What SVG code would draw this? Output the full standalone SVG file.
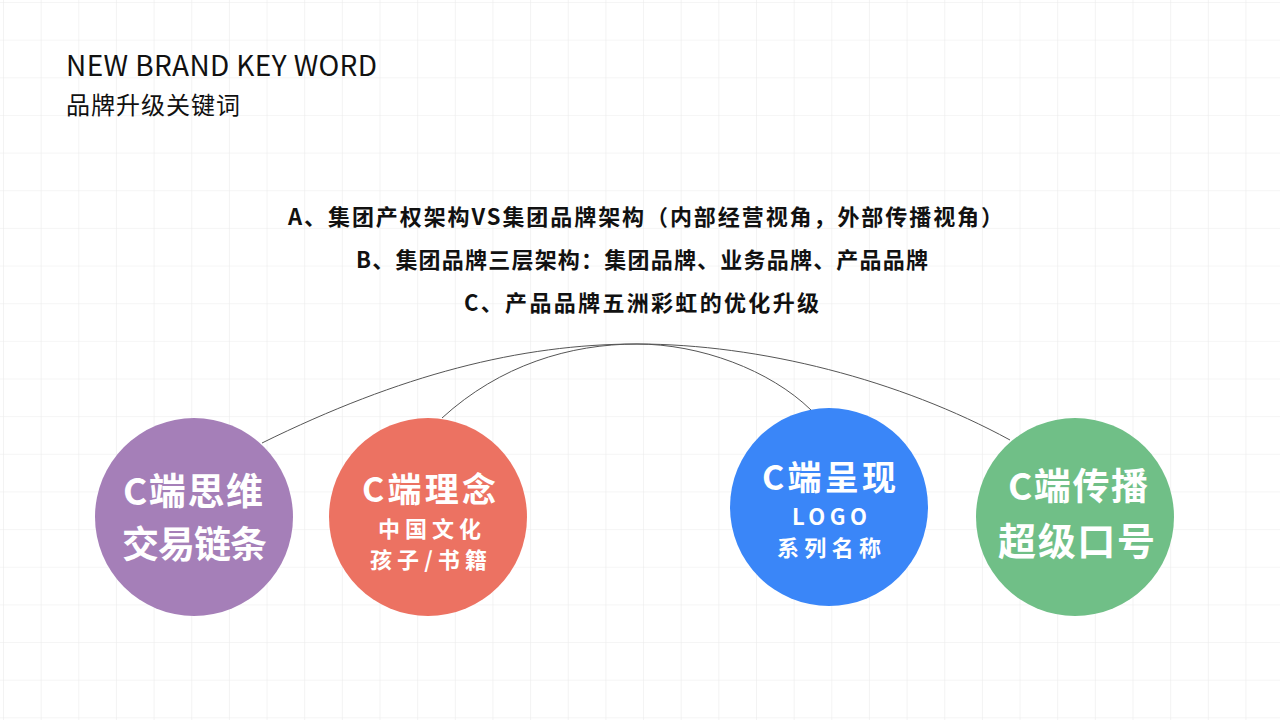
<svg xmlns="http://www.w3.org/2000/svg" width="1280" height="720" viewBox="0 0 1280 720">
<defs>
<pattern id="grid" x="3" y="2" width="37.65" height="37.65" patternUnits="userSpaceOnUse">
<path d="M0 0H37.65M0 0V37.65" fill="none" stroke="#ebebeb" stroke-width="1.2"/>
</pattern>
<style>
.t{font-family:"Noto Sans CJK SC","Noto Sans",sans-serif;}
.h{font-weight:bold;font-size:22px;fill:#111;}
.c{fill:#fff;font-weight:bold;}
.ln{fill:none;stroke:#555;stroke-width:1;}
</style>
</defs>
<rect width="1280" height="720" fill="#fff"/>
<rect width="1280" height="720" fill="url(#grid)"/>
<text class="t" x="66" y="76" font-size="28" fill="#111" textLength="311">NEW BRAND KEY WORD</text>
<text class="t" x="66" y="114" font-size="24" fill="#111" textLength="174">品牌升级关键词</text>
<text class="t h" x="288" y="225" textLength="715">A、集团产权架构VS集团品牌架构（内部经营视角，外部传播视角）</text>
<text class="t h" x="356" y="268" textLength="572">B、集团品牌三层架构：集团品牌、业务品牌、产品品牌</text>
<text class="t h" x="464" y="311" textLength="355">C、产品品牌五洲彩虹的优化升级</text>
<g id="connectors">
<path class="ln" d="M262 443 C400 375 520 344 637 344 C760 344 900 380 1010 440"/>
<path class="ln" d="M442 418 C500 365 570 344 637 344 C700 344 770 370 811 410"/>
</g>
<g id="n1"><circle cx="194" cy="517" r="99" fill="#A57FB8"/>
<text class="t c" x="123" y="505" font-size="37" textLength="140">C端思维</text>
<text class="t c" x="122" y="558" font-size="37" textLength="145">交易链条</text></g>
<g id="n2"><circle cx="428" cy="517" r="99" fill="#EC7262"/>
<text class="t c" x="362" y="502" font-size="34" textLength="134">C端理念</text>
<text class="t c" x="378" y="537" font-size="22" textLength="103">中国文化</text>
<text class="t c" x="370" y="568" font-size="22" textLength="117">孩子/书籍</text></g>
<g id="n3"><circle cx="829" cy="507" r="99" fill="#3A86F8"/>
<text class="t c" x="762" y="490" font-size="34" textLength="134">C端呈现</text>
<text class="t c" x="792" y="525" font-size="22" textLength="75">LOGO</text>
<text class="t c" x="777" y="556" font-size="22" textLength="104">系列名称</text></g>
<g id="n4"><circle cx="1075" cy="517" r="99" fill="#70BF87"/>
<text class="t c" x="1008" y="500" font-size="37" textLength="140">C端传播</text>
<text class="t c" x="998" y="555" font-size="38" textLength="157">超级口号</text></g>
</svg>
